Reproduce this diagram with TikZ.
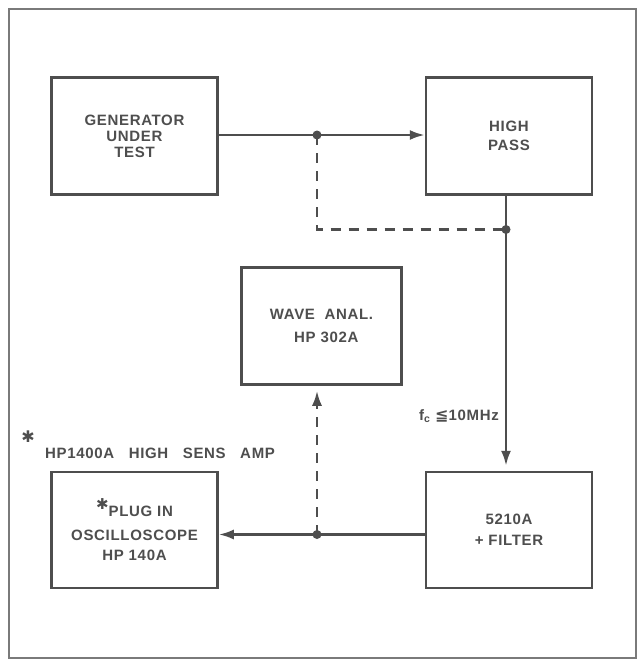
\documentclass[tikz,border=0pt]{standalone}
\usepackage{fontspec}
\setmainfont{Liberation Sans}
\newfontfamily\lbl{Liberation Sans}[LetterSpace=4.5,BoldFont={Liberation Sans Bold}]
\newfontfamily\sym{DejaVu Sans}
\usetikzlibrary{arrows.meta,calc}
\definecolor{ink}{RGB}{78,78,78}
\tikzset{
  blk/.style={draw=ink, line width=2.5bp, rectangle, minimum width=166bp, minimum height=117bp,
     inner sep=0pt, align=center, text=ink, font=\lbl\bfseries\fontsize{15bp}{17bp}\selectfont},
  wire/.style={draw=ink, line width=2.5bp},
  dwire/.style={draw=ink, line width=2.5bp, dash pattern=on 10bp off 8bp},
  tip/.style={-{Latex[length=15bp,width=10bp]}},
  jdot/.style={circle, fill=ink, inner sep=0pt, minimum size=9bp},
  txt/.style={text=ink, inner sep=0pt, font=\lbl\bfseries\fontsize{15bp}{17bp}\selectfont},
}
\begin{document}
\begin{tikzpicture}[x=1bp,y=-1bp]
\useasboundingbox (0,0) rectangle (639,661);
\fill[white] (0,0) rectangle (639,661);
\draw[draw=ink!75, line width=2.4bp] (9,9) rectangle (636,658);

\node[blk] (gen) at (134.5,136) {GENERATOR\\[-1bp]UNDER\\[-1bp]TEST};
\node[blk] (hp) at (509,136) {HIGH\\[1.5bp]PASS};
\node[blk, minimum width=160bp] (wave) at (321.5,326) {WAVE\ \ ANAL.\\[6bp]\ \ HP\ 302A};
\node[blk, minimum height=116bp] (scope) at (134.5,530) {\raisebox{7bp}{\sym\fontsize{15bp}{15bp}\selectfont ✱}PLUG IN\\[7bp]OSCILLOSCOPE\\[3bp]HP\ 140A};
\node[blk, minimum height=116bp] (filt) at (509,530) {5210A\\[4bp]+ FILTER};

\coordinate (j1) at (317,135);
\coordinate (j3) at (506,229.5);
\coordinate (j2) at (317,534.5);

\draw[wire] (gen.east |- j1) -- (j1);
\draw[wire, tip] (j1) -- (j1 -| hp.west);
\draw[dwire] (j1) |- (j3);
\draw[wire] (hp.south -| j3) -- (j3);
\draw[wire, tip, shorten >=5bp] (j3) -- (j3 |- filt.north);
\draw[wire] (j2 -| filt.west) -- (j2);
\draw[wire, tip] (j2) -- (j2 -| scope.east);
\draw[dwire, tip, shorten >=5bp] (j2) -- (j2 |- wave.south);

\node[jdot] at (j1) {};
\node[jdot] at (j3) {};
\node[jdot] at (j2) {};

\node[txt, anchor=east] (fc) at (499,416) {f\textsubscript{c}\ {\sym\bfseries\fontsize{16bp}{16bp}\selectfont ≦}10MHz};
\node[txt, anchor=center] (ast) at (28,437) {\sym\fontsize{16bp}{16bp}\selectfont ✱};
\node[txt, anchor=west] (amp) at (45,453) {HP1400A\ \ \ HIGH\ \ \ SENS\ \ \ AMP};
\end{tikzpicture}
\end{document}
